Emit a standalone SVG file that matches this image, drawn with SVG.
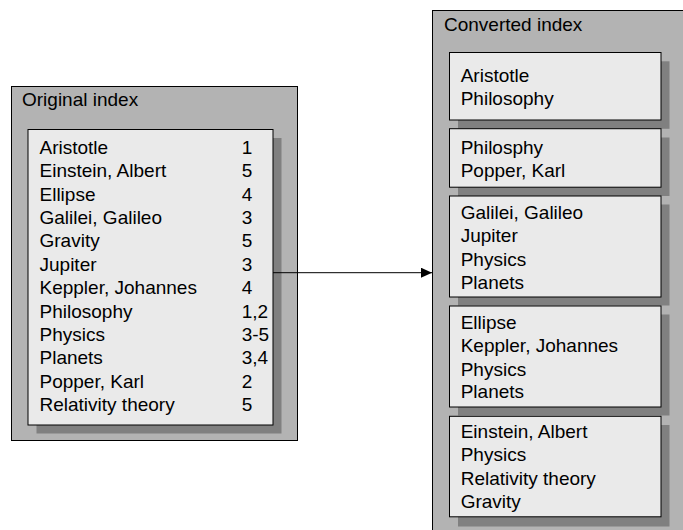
<svg xmlns="http://www.w3.org/2000/svg" width="683" height="530" viewBox="0 0 683 530">
<style>
.outer{fill:#b3b3b3;stroke:#000;stroke-width:1}
.inner{fill:#eaeaea;stroke:#000;stroke-width:1}
.shadow{fill:#808080}
text{font-family:"Liberation Sans",Arial,sans-serif;font-size:19px;fill:#000}
.conn{stroke:#000;stroke-width:1;fill:none}
</style>
<defs>
<marker id="arr" markerWidth="11" markerHeight="10" refX="11" refY="5" orient="auto" markerUnits="userSpaceOnUse">
<path d="M0,0 L11,5 L0,10 Z" fill="#000"/>
</marker>
</defs>
<rect width="683" height="530" fill="#fff"/>
<g id="original-index">
<rect class="outer" x="11.5" y="86.5" width="286" height="354"/>
<text x="22" y="106">Original index</text>
<rect class="shadow" x="36.5" y="138" width="245" height="295.5"/>
<rect class="inner" x="28" y="129.5" width="245" height="295.5"/>
<text x="39.5" y="154">Aristotle</text><text x="241.7" y="154">1</text>
<text x="39.5" y="177.4">Einstein, Albert</text><text x="241.7" y="177.4">5</text>
<text x="39.5" y="200.7">Ellipse</text><text x="241.7" y="200.7">4</text>
<text x="39.5" y="224.1">Galilei, Galileo</text><text x="241.7" y="224.1">3</text>
<text x="39.5" y="247.4">Gravity</text><text x="241.7" y="247.4">5</text>
<text x="39.5" y="270.8">Jupiter</text><text x="241.7" y="270.8">3</text>
<text x="39.5" y="294.2">Keppler, Johannes</text><text x="241.7" y="294.2">4</text>
<text x="39.5" y="317.5">Philosophy</text><text x="241.7" y="317.5">1,2</text>
<text x="39.5" y="340.9">Physics</text><text x="241.7" y="340.9">3-5</text>
<text x="39.5" y="364.2">Planets</text><text x="241.7" y="364.2">3,4</text>
<text x="39.5" y="387.6">Popper, Karl</text><text x="241.7" y="387.6">2</text>
<text x="39.5" y="411">Relativity theory</text><text x="241.7" y="411">5</text>
</g>
<g id="converted-index">
<rect class="outer" x="432.5" y="10.5" width="260" height="530"/>
<text x="444" y="31">Converted index</text>
</g>
<g id="group1">
<rect class="shadow" x="458" y="61.3" width="211.5" height="67.5"/>
<rect class="inner" x="449.5" y="52.5" width="211.5" height="67.5"/>
<text x="460.7" y="82">Aristotle</text>
<text x="460.7" y="105.3">Philosophy</text>
</g>
<g id="group2">
<rect class="shadow" x="458" y="137.5" width="211.5" height="58.5"/>
<rect class="inner" x="449.5" y="128.7" width="211.5" height="58.5"/>
<text x="460.7" y="154">Philosphy</text>
<text x="460.7" y="176.7">Popper, Karl</text>
</g>
<g id="group3">
<rect class="shadow" x="458" y="204.5" width="211.5" height="101"/>
<rect class="inner" x="449.5" y="196" width="211.5" height="101"/>
<text x="460.7" y="219">Galilei, Galileo</text>
<text x="460.7" y="242.3">Jupiter</text>
<text x="460.7" y="265.6">Physics</text>
<text x="460.7" y="288.9">Planets</text>
</g>
<g id="group4">
<rect class="shadow" x="458" y="314.5" width="211.5" height="101"/>
<rect class="inner" x="449.5" y="306" width="211.5" height="101"/>
<text x="460.7" y="329">Ellipse</text>
<text x="460.7" y="352.3">Keppler, Johannes</text>
<text x="460.7" y="375.6">Physics</text>
<text x="460.7" y="398.4">Planets</text>
</g>
<g id="group5">
<rect class="shadow" x="458" y="425" width="211.5" height="101.5"/>
<rect class="inner" x="449.5" y="416.3" width="211.5" height="100.5"/>
<text x="460.7" y="438">Einstein, Albert</text>
<text x="460.7" y="461.3">Physics</text>
<text x="460.7" y="484.6">Relativity theory</text>
<text x="460.7" y="508.2">Gravity</text>
</g>
<g id="connectors">
<line class="conn" x1="273" y1="272.7" x2="432" y2="272.7" marker-end="url(#arr)"/>
</g>
</svg>
